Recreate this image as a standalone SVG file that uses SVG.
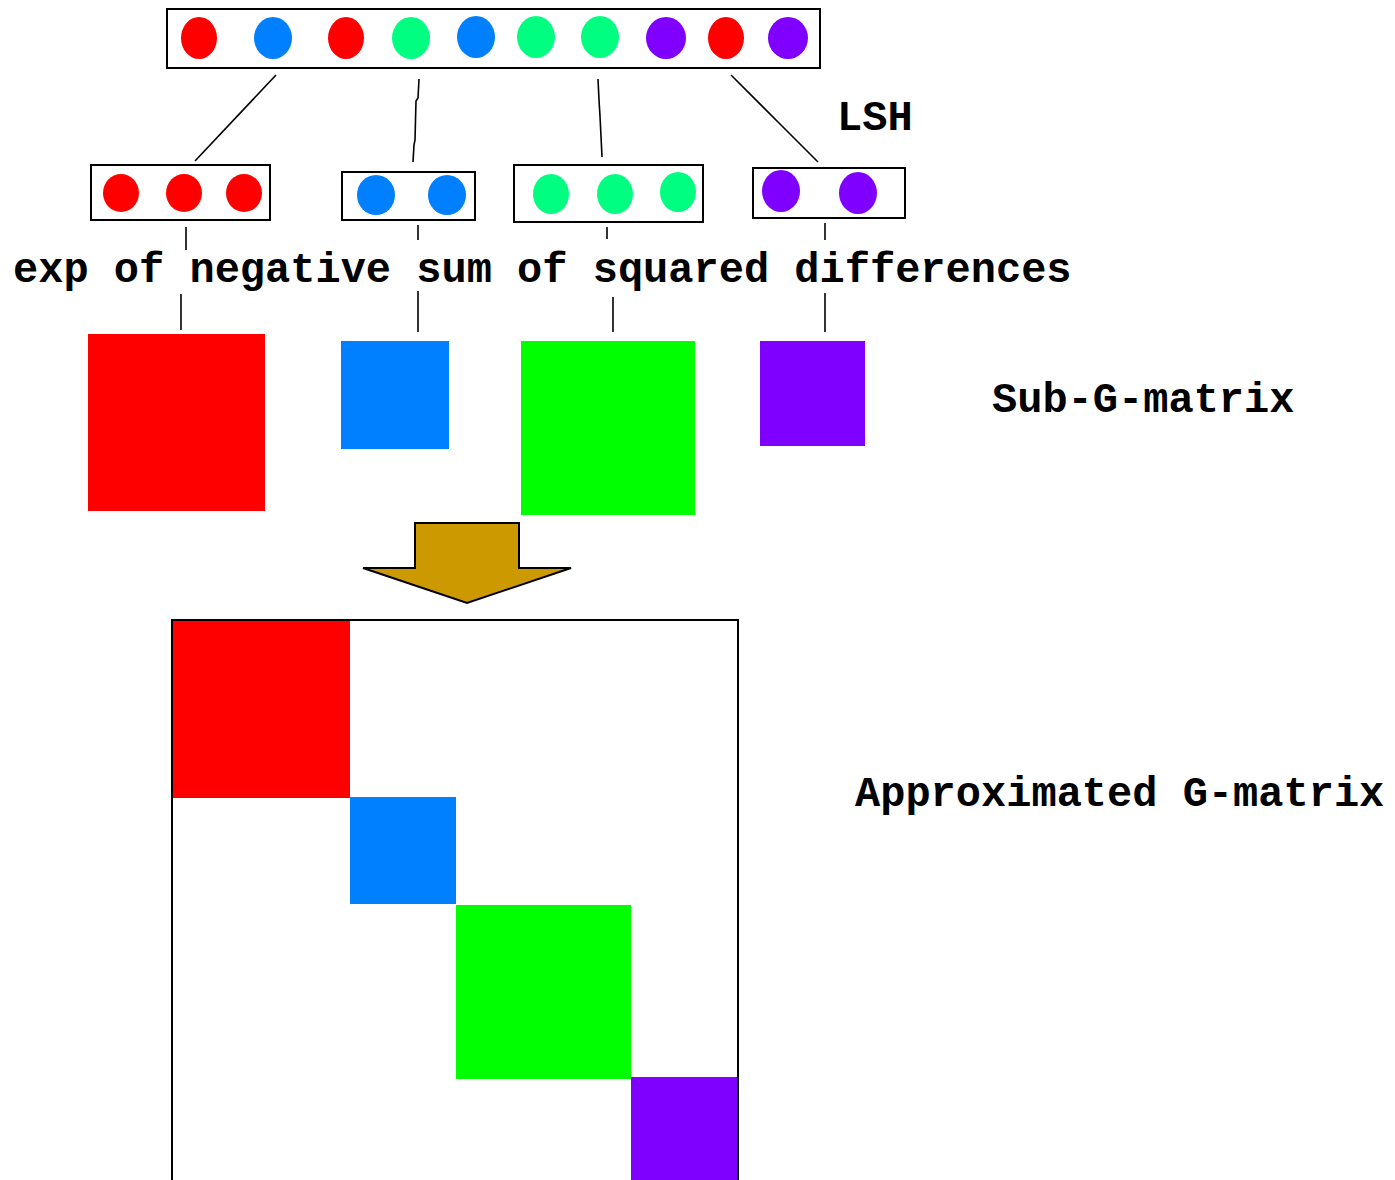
<svg xmlns="http://www.w3.org/2000/svg" width="1395" height="1180" viewBox="0 0 1395 1180">
  <style>
    .box { fill: #ffffff; stroke: #000000; stroke-width: 2; }
    .conn { fill: none; stroke: #000000; stroke-width: 1.6; }
    .lbl { font-family: "Liberation Mono", "Courier New", monospace; font-size: 42px; font-weight: bold; fill: #000000; }
    .r { fill: #ff0000; }
    .b { fill: #0080ff; }
    .g { fill: #00ff80; }
    .p { fill: #8000ff; }
    .gs { fill: #00ff00; }
  </style>
  <rect width="1395" height="1180" fill="#ffffff"/>

  <!-- full sample row -->
  <g id="all-samples">
    <rect class="box" x="167" y="9" width="653" height="59"/>
    <ellipse class="r" cx="199" cy="38" rx="18" ry="21"/>
    <ellipse class="b" cx="273" cy="38" rx="19" ry="21"/>
    <ellipse class="r" cx="346" cy="38" rx="18" ry="21"/>
    <ellipse class="g" cx="411" cy="38" rx="19" ry="21"/>
    <ellipse class="b" cx="476" cy="37" rx="19" ry="21"/>
    <ellipse class="g" cx="536" cy="37" rx="19" ry="21"/>
    <ellipse class="g" cx="600" cy="37" rx="19" ry="21"/>
    <ellipse class="p" cx="666" cy="38" rx="20" ry="21"/>
    <ellipse class="r" cx="726" cy="38" rx="18" ry="21"/>
    <ellipse class="p" cx="788" cy="38" rx="20" ry="21"/>
  </g>

  <!-- LSH buckets -->
  <g id="bucket-red">
    <rect class="box" x="91" y="165" width="179" height="55"/>
    <ellipse class="r" cx="121" cy="193" rx="18" ry="19"/>
    <ellipse class="r" cx="184" cy="193" rx="18" ry="19"/>
    <ellipse class="r" cx="244" cy="193" rx="18" ry="19"/>
  </g>
  <g id="bucket-blue">
    <rect class="box" x="342" y="172" width="133" height="48"/>
    <ellipse class="b" cx="376" cy="195" rx="19" ry="20"/>
    <ellipse class="b" cx="447" cy="195" rx="19" ry="20"/>
  </g>
  <g id="bucket-green">
    <rect class="box" x="514" y="165" width="189" height="57"/>
    <ellipse class="g" cx="551" cy="194" rx="18" ry="20"/>
    <ellipse class="g" cx="615" cy="194" rx="18" ry="20"/>
    <ellipse class="g" cx="678" cy="192" rx="18" ry="20"/>
  </g>
  <g id="bucket-purple">
    <rect class="box" x="753" y="168" width="152" height="50"/>
    <ellipse class="p" cx="781" cy="191" rx="19" ry="21"/>
    <ellipse class="p" cx="858" cy="193" rx="19" ry="21"/>
  </g>

  <!-- connectors -->
  <g id="connectors">
    <polyline class="conn" points="276,75 195,161"/>
    <polyline class="conn" points="419,79 418,98 416,101 415,140 414,145 413,162"/>
    <polyline class="conn" points="598,79 599,100 600,116 602,157"/>
    <polyline class="conn" points="731,75 778,122 818,162"/>
    <line class="conn" x1="186" y1="227" x2="186" y2="250"/>
    <line class="conn" x1="418" y1="225" x2="418" y2="240"/>
    <line class="conn" x1="607" y1="227" x2="607" y2="239"/>
    <line class="conn" x1="825" y1="223" x2="825" y2="240"/>
    <line class="conn" x1="181" y1="294" x2="181" y2="330"/>
    <line class="conn" x1="418" y1="291" x2="418" y2="332"/>
    <line class="conn" x1="613" y1="297" x2="613" y2="332"/>
    <line class="conn" x1="825" y1="293" x2="825" y2="332"/>
  </g>

  <text class="lbl" x="13" y="282">exp of negative sum of squared differences</text>
  <text class="lbl" x="837" y="130">LSH</text>

  <!-- sub-matrices -->
  <g id="sub-red"><rect fill="#ff0000" x="88" y="334" width="177" height="177"/></g>
  <g id="sub-blue"><rect fill="#0080ff" x="341" y="341" width="108" height="108"/></g>
  <g id="sub-green"><rect fill="#00ff00" x="521" y="341" width="174" height="174"/></g>
  <g id="sub-purple"><rect fill="#8000ff" x="760" y="341" width="105" height="105"/></g>
  <text class="lbl" x="992" y="412">Sub-G-matrix</text>

  <!-- assembly arrow -->
  <g id="arrow">
    <polygon points="415,523 519,523 519,568 571,568 467,603 363,568 415,568" fill="#cc9900" stroke="#000000" stroke-width="2" stroke-linejoin="miter"/>
  </g>

  <!-- block-diagonal matrix -->
  <g id="g-matrix">
    <rect class="box" x="172" y="620" width="566" height="570"/>
    <rect fill="#ff0000" x="173" y="621" width="177" height="177"/>
    <rect fill="#0080ff" x="350" y="797" width="106" height="107"/>
    <rect fill="#00ff00" x="456" y="905" width="175" height="174"/>
    <rect fill="#8000ff" x="631" y="1077" width="106" height="110"/>
  </g>
  <text class="lbl" x="855" y="806">Approximated G-matrix</text>
</svg>
